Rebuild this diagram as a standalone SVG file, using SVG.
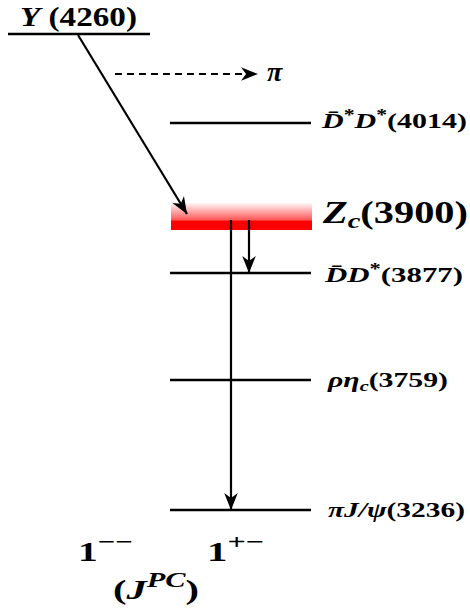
<svg xmlns="http://www.w3.org/2000/svg" width="470" height="614" viewBox="0 0 470 614">
<style>
.lv{stroke:#000;stroke-width:2.5;fill:none}
.ar{stroke:#000;stroke-width:2.2;fill:none}
.t{font-family:"Liberation Serif","DejaVu Serif",serif;font-weight:bold;fill:#000}
.i{font-style:italic}
</style>
<defs>
<marker id="ahb" viewBox="0 0 10 10" refX="10" refY="5" markerWidth="17" markerHeight="17" markerUnits="userSpaceOnUse" orient="auto">
<path d="M0,1 L10,5 L0,9 L3,5 Z" fill="#000"/>
</marker>
<linearGradient id="zg" x1="0" y1="0" x2="0" y2="1">
<stop offset="0" stop-color="#ff0000" stop-opacity="0.03"/>
<stop offset="0.62" stop-color="#ff0000" stop-opacity="0.65"/>
<stop offset="0.68" stop-color="#ff0000" stop-opacity="1"/>
<stop offset="1" stop-color="#ff0000" stop-opacity="1"/>
</linearGradient>
</defs>

<g id="Y4260">
<line class="lv" x1="8" y1="34" x2="150" y2="34"/>
<text class="t" x="20" y="26" font-size="27" textLength="117" lengthAdjust="spacingAndGlyphs"><tspan class="i">Y</tspan> (4260)</text>
</g>

<g id="Zc3900">
<rect x="171" y="203" width="141" height="27" fill="url(#zg)"/>
<text class="t" x="323" y="223" font-size="31" textLength="145" lengthAdjust="spacingAndGlyphs"><tspan class="i">Z</tspan><tspan class="i" font-size="22" dy="5">c</tspan><tspan dy="-5">(3900)</tspan></text>
</g>

<g id="DstarDstar">
<line class="lv" x1="170" y1="123" x2="311" y2="123"/>
<text class="t" x="322" y="128" font-size="22" textLength="145" lengthAdjust="spacingAndGlyphs"><tspan class="i">D̄</tspan><tspan font-size="16" dy="-8">*</tspan><tspan class="i" dy="8">D</tspan><tspan font-size="16" dy="-8">*</tspan><tspan dy="8">(4014)</tspan></text>
</g>

<g id="DDstar">
<line class="lv" x1="170" y1="273" x2="311" y2="273"/>
<text class="t" x="325" y="282" font-size="22" textLength="138" lengthAdjust="spacingAndGlyphs"><tspan class="i">D̄D</tspan><tspan font-size="16" dy="-8">*</tspan><tspan dy="8">(3877)</tspan></text>
</g>

<g id="rhoetac">
<line class="lv" x1="170" y1="380" x2="311" y2="380"/>
<text class="t" x="328" y="387" font-size="22" textLength="120" lengthAdjust="spacingAndGlyphs"><tspan class="i">ρη</tspan><tspan class="i" font-size="15" dy="4">c</tspan><tspan dy="-4">(3759)</tspan></text>
</g>

<g id="piJpsi">
<line class="lv" x1="170" y1="510" x2="311" y2="510"/>
<text class="t" x="328" y="517" font-size="22" textLength="137" lengthAdjust="spacingAndGlyphs"><tspan class="i">πJ/ψ</tspan>(3236)</text>
</g>

<g id="pi">
<text class="t i" x="267" y="81" font-size="28">π</text>
</g>

<g id="jpc">
<text class="t" x="78" y="561" font-size="28" textLength="55" lengthAdjust="spacingAndGlyphs">1<tspan font-size="22" dy="-12">−−</tspan></text>
<text class="t" x="207" y="561" font-size="28" textLength="57" lengthAdjust="spacingAndGlyphs">1<tspan font-size="22" dy="-12">+−</tspan></text>
<text class="t" x="113" y="599" font-size="28" textLength="86" lengthAdjust="spacingAndGlyphs">(<tspan class="i">J</tspan><tspan class="i" font-size="21" dy="-12">PC</tspan><tspan dy="12">)</tspan></text>
</g>

<g id="connectors">
<line class="ar" x1="78" y1="35" x2="187" y2="214" marker-end="url(#ahb)"/>
<line class="ar" x1="115" y1="74" x2="258" y2="74" stroke-dasharray="7,5" marker-end="url(#ahb)"/>
<line class="ar" x1="231" y1="220" x2="231" y2="510" marker-end="url(#ahb)"/>
<line class="ar" x1="249" y1="220" x2="249" y2="273" marker-end="url(#ahb)"/>
</g>
</svg>
